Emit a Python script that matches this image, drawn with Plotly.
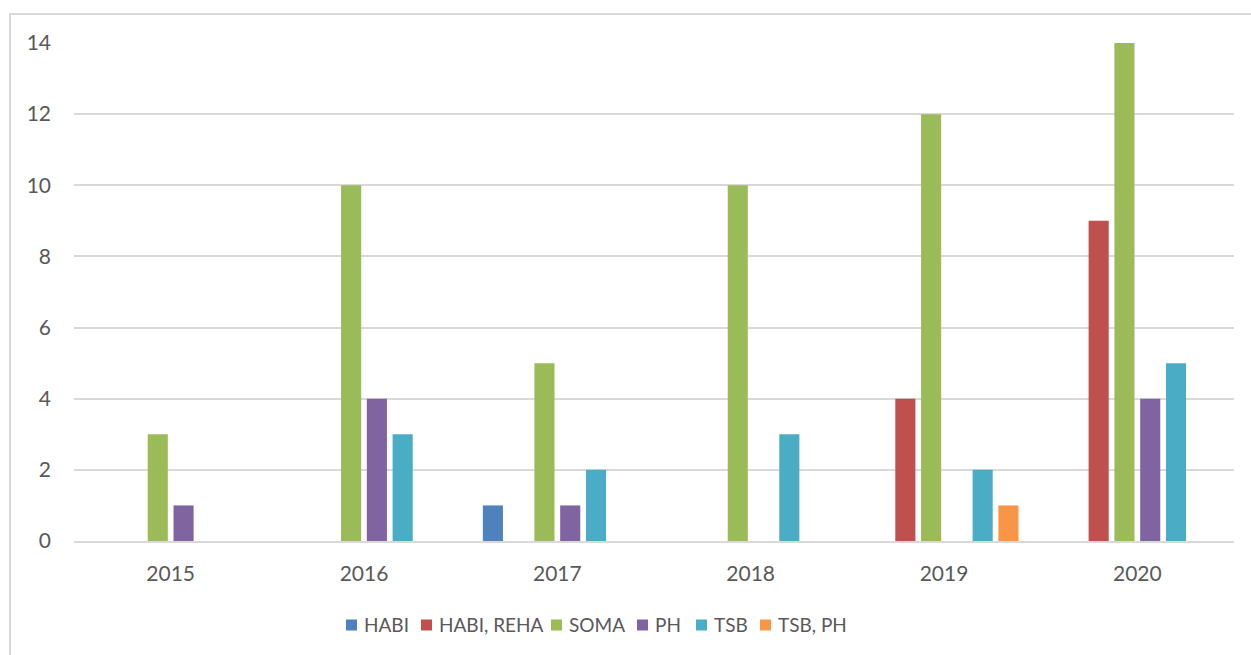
import plotly.graph_objects as go

# Categories and series
years = ["2015", "2016", "2017", "2018", "2019", "2020"]
habi = [None, None, 1, None, None, None]
habi_reha = [None, None, None, None, 4, 9]
soma = [3, 10, 5, 10, 12, 14]
ph = [1, 4, 1, None, None, 4]
tsb = [None, 3, 2, 3, 2, 5]
tsb_ph = [None, None, None, None, 1, None]

series_names = ["HABI", "HABI, REHA", "SOMA", "PH", "TSB", "TSB, PH"]
series_values = [habi, habi_reha, soma, ph, tsb, tsb_ph]
series_colors = ["#4F81BD", "#C0504D", "#9BBB59", "#8064A2", "#4BACC6", "#F79646"]

y_ticks = [0, 2, 4, 6, 8, 10, 12, 14]

fig = go.Figure()
for name, vals, color in zip(series_names, series_values, series_colors):
    fig.add_trace(go.Bar(
        x=years, y=vals, name=name, showlegend=False,
        marker=dict(color=color, line=dict(width=0)),
    ))

W, H = 1251, 655
ml, mr, mt, mb = 74, 17, 43, 114
pw = W - ml - mr
ph_ = H - mt - mb

def px_x(x):
    return (x - ml) / pw

def px_y(y):
    return (mt + ph_ - y) / ph_

font = "Lato, 'Open Sans', sans-serif"

# Legend row below the plot: swatch left edges (pixels)
legend_swatch_x = [346, 421, 551, 637, 696, 760]
legend_y = 625
sw = 11

shapes = [
    dict(
        type="rect", xref="paper", yref="paper",
        x0=px_x(10), x1=px_x(W + 20),
        y0=px_y(H + 20), y1=px_y(14),
        line=dict(color="#d9d9d9", width=2),
        fillcolor="rgba(0,0,0,0)",
        layer="below",
    )
]
annotations = []
for name, color, sx in zip(series_names, series_colors, legend_swatch_x):
    shapes.append(dict(
        type="rect", xref="paper", yref="paper",
        x0=px_x(sx), x1=px_x(sx + sw),
        y0=px_y(legend_y + sw / 2), y1=px_y(legend_y - sw / 2),
        line=dict(width=0), fillcolor=color,
    ))
    annotations.append(dict(
        xref="paper", yref="paper",
        x=px_x(sx + sw + 5), y=px_y(legend_y),
        xanchor="left", yanchor="middle",
        text=name, showarrow=False,
        font=dict(family=font, size=19, color="#595959"),
    ))

fig.update_layout(
    width=W, height=H,
    margin=dict(l=ml, r=mr, t=mt, b=mb, pad=0),
    barmode="group",
    bargap=0.2,
    bargroupgap=0.22,
    paper_bgcolor="white",
    plot_bgcolor="white",
    font=dict(family=font, size=21, color="#595959"),
    showlegend=False,
    xaxis=dict(
        showgrid=False,
        showline=True, linecolor="#d9d9d9", linewidth=2,
        ticks="",
        ticklabelstandoff=13,
        tickfont=dict(family=font, size=21, color="#595959"),
    ),
    yaxis=dict(
        range=[0, 14],
        tickvals=y_ticks,
        showgrid=True, gridcolor="#d9d9d9", gridwidth=1.5,
        zeroline=False,
        showline=False,
        ticks="",
        ticklabelstandoff=22,
        tickfont=dict(family=font, size=21, color="#595959"),
    ),
    shapes=shapes,
    annotations=annotations,
)

fig.write_html("out.html")
